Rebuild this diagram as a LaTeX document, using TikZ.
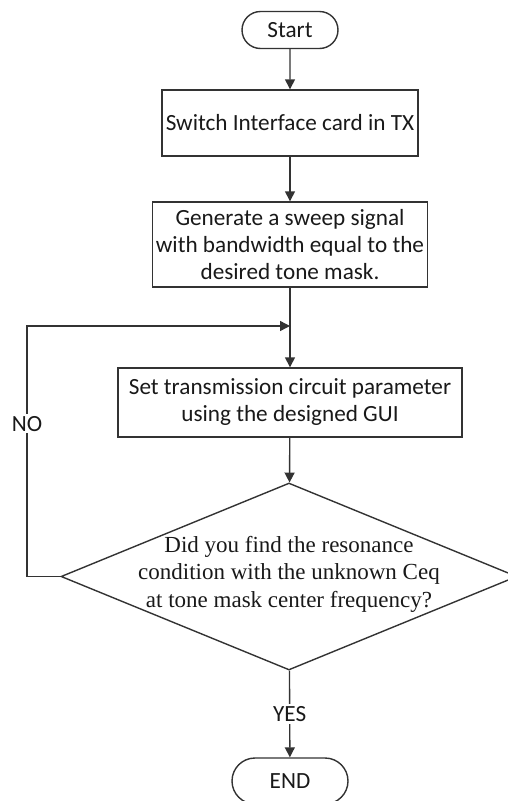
\documentclass[tikz,border=0pt]{standalone}
\usepackage{fontspec}
\setmainfont{Carlito}
\newfontfamily\questionfont{Liberation Serif}
\usetikzlibrary{shapes.geometric}
\usetikzlibrary{shapes.misc}
\usetikzlibrary{arrows.meta}
\colorlet{line colour}{black!80}
\colorlet{text colour}{black!90}
\tikzset{
    % Solid triangle tips, as in the drawing
    >={Triangle[length=10pt, width=10pt]},
%
    % Every text is centred and set at the same size
    every node/.style={
        align=center, text=text colour,
        font=\fontsize{23.2}{27}\selectfont},
%
    terminal/.style={
        draw=line colour, rounded rectangle, inner sep=0},
    box/.style={
        draw=line colour, rectangle, inner sep=0},
    decision/.style={
        draw=line colour, diamond, inner sep=0},
    question/.style={
        font=\questionfont\fontsize{23}{27.5}\selectfont},
%
    flow/.style={draw=line colour, ->},
    tag/.style={fill=white, inner sep=2pt},
}

\begin{document}
\begin{tikzpicture}[x=1pt, y=-1pt, line width=1.4pt]
    \useasboundingbox (0,0) rectangle (508,801);

    \node [terminal, minimum width=96, minimum height=37]
        (start) at (290,30) {Start};
    \node [box, minimum width=256, minimum height=66]
        (switch) at (290,123) {Switch Interface card in TX};
    \node [box, minimum width=275, minimum height=85]
        (sweep) at (290,244.5)
        {Generate a sweep signal\\with bandwidth equal to the\\desired tone mask.};
    \node [box, minimum width=344, minimum height=69]
        (param) at (290,402.5)
        {Set transmission circuit parameter\\using the designed GUI};
    \node [decision, minimum width=456, minimum height=187]
        (found) at (289,576.5) {};
    \node [question] (found text) at (289,574)
        {Did you find the resonance\\condition with the unknown Ceq\\at tone mask center frequency?};
    \node [terminal, minimum width=116, minimum height=46]
        (end) at (290,781) {END};

    \coordinate (merge) at (290,326);
    \coordinate (no bend) at (27,576.5);

    \draw [flow] (start) -- (switch);
    \draw [flow] (switch) -- (sweep);
    \draw [flow] (sweep) -- (param);
    \draw [flow] (param) -- (found);
    \draw [flow] (found.west) -- (no bend)
        -- node [tag, pos=0.61] {NO} (no bend |- merge) -- (merge);
    \draw [flow] (found) -- node [tag] {YES} (end);
\end{tikzpicture}
\end{document}
